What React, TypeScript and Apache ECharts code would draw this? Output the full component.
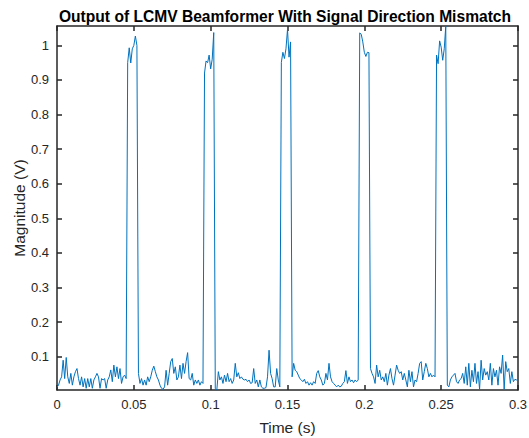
import React, { useEffect, useRef } from "react";
import * as echarts from "echarts";

// Beamformer output magnitude, sampled at 1 kHz (0 .. 0.3 s).
const SAMPLE_RATE = 1000;

// Baseline (interference/noise residue) segments between pulses.
const noise0 = [
  0.012, 0.018, 0.033, 0.042, 0.09, 0.037, 0.098, 0.042, 0.023, 0.052,
  0.018, 0.042, 0.057, 0.066, 0.037, 0.018, 0.042, 0.013, 0.037, 0.009,
  0.037, 0.013, 0.037, 0.009, 0.033, 0.042, 0.052, 0.042, 0.009, 0.037,
  0.033, 0.037, 0.009, 0.033, 0.042, 0.062, 0.028, 0.076, 0.042, 0.071,
  0.037, 0.066, 0.023, 0.042, 0.047, 0.037,
];
const noise1 = [
  0.052, 0.023, 0.037, 0.018, 0.033, 0.018, 0.042, 0.028, 0.042, 0.061,
  0.073, 0.057, 0.042, 0.033, 0.018, 0.009, 0.006, 0.013, 0.061, 0.018,
  0.052, 0.086, 0.095, 0.052, 0.071, 0.033, 0.042, 0.076, 0.037, 0.081,
  0.052, 0.086, 0.112, 0.037, 0.033, 0.052, 0.018, 0.033, 0.023, 0.033,
  0.018, 0.028, 0.023,
];
const noise2 = [
  0.008, 0.004, 0.057, 0.033, 0.042, 0.023, 0.047, 0.028, 0.052, 0.028,
  0.037, 0.023, 0.033, 0.081, 0.042, 0.054, 0.037, 0.042, 0.035, 0.033,
  0.035, 0.028, 0.033, 0.023, 0.025, 0.066, 0.023, 0.033, 0.013, 0.033,
  0.013, 0.009, 0.009, 0.011, 0.042, 0.119, 0.052, 0.037, 0.013, 0.013,
  0.066, 0.033, 0.013,
];
const noise3 = [
  0.042, 0.081, 0.061, 0.057, 0.047, 0.037, 0.033, 0.028, 0.035, 0.023,
  0.028, 0.018, 0.025, 0.018, 0.028, 0.023, 0.052, 0.06, 0.042, 0.033,
  0.018, 0.023, 0.052, 0.033, 0.081, 0.042, 0.028, 0.023, 0.018, 0.013,
  0.018, 0.013, 0.015, 0.023, 0.028, 0.06, 0.023, 0.042, 0.028, 0.033,
  0.025, 0.033, 0.028, 0.033,
];
const noise4 = [
  0.066, 0.052, 0.042, 0.023, 0.076, 0.042, 0.061, 0.033, 0.042, 0.028,
  0.052, 0.018, 0.047, 0.066, 0.037, 0.018, 0.047, 0.076, 0.061, 0.052,
  0.057, 0.033, 0.052, 0.033, 0.013, 0.061, 0.028, 0.057, 0.013, 0.033,
  0.028, 0.052, 0.081, 0.086, 0.033, 0.057, 0.081, 0.066, 0.042, 0.052,
  0.042, 0.047, 0.042,
];
const noise5 = [
  0.018, 0.013, 0.033, 0.042, 0.047, 0.052, 0.028, 0.023, 0.033, 0.037,
  0.052, 0.023, 0.071, 0.018, 0.081, 0.013, 0.061, 0.028, 0.081, 0.023,
  0.057, 0.006, 0.09, 0.033, 0.066, 0.047, 0.057, 0.033, 0.081, 0.018,
  0.066, 0.042, 0.061, 0.018, 0.071, 0.052, 0.105, 0.006, 0.086, 0.057,
  0.066, 0.023, 0.057, 0.028, 0.035, 0.033, 0.037,
];

// Recovered pulse tops.
const pulse1 = [0.95, 0.993, 0.949, 0.99, 1.0, 1.027, 1.0];
const pulse2 = [0.92, 0.955, 0.95, 0.972, 0.932, 0.96, 1.037];
const pulse3 = [0.951, 0.98, 0.962, 0.99, 1.046, 0.966, 1.01];
const pulse4 = [1.036, 1.032, 1.01, 0.98, 0.968, 0.98, 0.979];
const pulse5 = [0.972, 0.947, 1.013, 0.995, 0.957, 0.99, 1.056];

const magnitude = [
  ...noise0, ...pulse1, ...noise1, ...pulse2, ...noise2, ...pulse3,
  ...noise3, ...pulse4, ...noise4, ...pulse5, ...noise5,
];

const yTicks = [0.1, 0.2, 0.3, 0.4, 0.5, 0.6, 0.7, 0.8, 0.9, 1];

const TITLE = "Output of LCMV Beamformer With Signal Direction Mismatch";
const X_NAME = "Time (s)";
const Y_NAME = "Magnitude (V)";

const AXIS_COLOR = "#262626";
const FONT = "Arial, 'Liberation Sans', Helvetica, sans-serif";

export default function App() {
  const ref = useRef<HTMLDivElement>(null);

  useEffect(() => {
    if (!ref.current) return;
    const chart = echarts.init(ref.current, undefined, { renderer: "svg" });

    const points = magnitude.map((v, i) => [i / SAMPLE_RATE, v]);
    const yMin = Math.min(...magnitude);
    const yMax = Math.max(...magnitude);

    const lineStyle = { color: AXIS_COLOR, width: 1.5 };
    const tick = { show: true, inside: true, length: 5, lineStyle };

    const xBase = {
      type: "value" as const,
      min: 0,
      max: 0.3,
      interval: 0.05,
      splitLine: { show: false },
      axisLine: { show: true, onZero: false, lineStyle },
      axisTick: tick,
    };
    const yBase = {
      type: "value" as const,
      min: yMin,
      max: yMax,
      splitLine: { show: false },
      axisLine: { show: true, onZero: false, lineStyle },
      axisTick: { ...tick, customValues: yTicks },
    };

    chart.setOption({
      animation: false,
      backgroundColor: "#ffffff",
      textStyle: { fontFamily: FONT },
      title: {
        text: TITLE,
        left: 280,
        top: 3,
        textAlign: "center",
        textStyle: {
          fontFamily: FONT,
          fontWeight: "bold",
          fontSize: 15.6,
          color: "#000000",
        },
      },
      grid: {
        left: 57,
        right: 11,
        top: 26,
        bottom: 48,
        containLabel: false,
        outerBoundsMode: "none",
      },
      xAxis: [
        {
          ...xBase,
          position: "bottom",
          axisLabel: {
            color: AXIS_COLOR,
            fontSize: 13,
            fontFamily: FONT,
            margin: 8,
          },
          name: X_NAME,
          nameLocation: "middle",
          nameGap: 29,
          nameMoveOverlap: false,
          nameTextStyle: { color: AXIS_COLOR, fontSize: 15.5, fontFamily: FONT },
        },
        {
          ...xBase,
          position: "top",
          axisLabel: { show: false },
        },
      ],
      yAxis: [
        {
          ...yBase,
          position: "left",
          axisLabel: {
            color: AXIS_COLOR,
            fontSize: 13,
            fontFamily: FONT,
            margin: 8,
            customValues: yTicks,
            formatter: (v: number) => String(Math.round(v * 10) / 10),
          },
          name: Y_NAME,
          nameLocation: "middle",
          nameGap: 30,
          nameMoveOverlap: false,
          nameTextStyle: { color: AXIS_COLOR, fontSize: 15.5, fontFamily: FONT },
        },
        {
          ...yBase,
          position: "right",
          axisLabel: { show: false },
        },
      ],
      series: [
        {
          type: "line",
          xAxisIndex: 0,
          yAxisIndex: 0,
          data: points,
          showSymbol: false,
          symbol: "none",
          clip: true,
          lineStyle: { color: "#0072BD", width: 1 },
          emphasis: { disabled: true },
        },
      ],
    });

    return () => chart.dispose();
  }, []);

  return (
    <div
      ref={ref}
      style={{ position: "fixed", left: 0, top: 0, width: 529, height: 438 }}
    />
  );
}
